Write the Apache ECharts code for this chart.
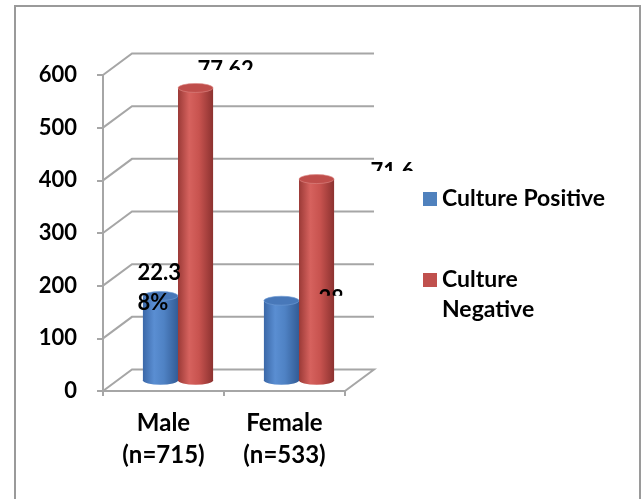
<!DOCTYPE html>
<html>
<head>
<meta charset="utf-8">
<script src="https://cdn.jsdelivr.net/npm/echarts@6/dist/echarts.min.js"></script>
<style>
  html, body { margin: 0; padding: 0; background: #fff; }
  #chart { width: 641px; height: 499px; }
</style>
</head>
<body>
<div id="chart"></div>
<script>
// Categories and values
const categories = ['Male\n(n=715)', 'Female\n(n=533)'];
const seriesNames = ['Culture Positive', 'Culture Negative'];
const positiveCounts = [160, 151];
const negativeCounts = [555, 382];
const positivePct = ['22.38%', '28.33%'];
const negativePct = ['77.62%', '71.67%'];
const yTicks = [0, 100, 200, 300, 400, 500, 600];

// Styling / pseudo-3D geometry
const FONT = 'Lato, "Open Sans", sans-serif';
const DEPTH_X = 29;      // horizontal shift of the back wall
const DEPTH_Y = 21.5;    // vertical shift of the back wall
const BAR_RATIO = 0.29;  // cylinder width as share of a category band
const CAP_RY = 4.5;      // half-height of the elliptical caps
const GRID_COLOR = '#a6a6a6';

const looks = [
  {
    base: '#4F81BD',
    body: ['#3b68a8', '#5a8ed2', '#4f82c4', '#335c96'],
    cap: '#4878b9', rim: '#6f9bd6'
  },
  {
    base: '#C0504D',
    body: ['#9b3a37', '#d6625e', '#c8534f', '#8c3230'],
    cap: '#bf4e4b', rim: '#dc8683'
  }
];

// Data label placement relative to each cylinder's top centre
const labelLayout = [
  [ { dx: -23, dy: -38, width: 52 },
    { dx: 37, dy: -17, width: 52, clipW: 28, clipH: 12 } ],
  [ { dx: 2, dy: -33, width: 66, clipH: 15 },
    { dx: 54, dy: -22, width: 52, clipH: 14 } ]
];

const valuesBySeries = [positiveCounts, negativeCounts];
const pctBySeries = [positivePct, negativePct];

function barGeometry(api, s, catIdx, value) {
  const top = api.coord([catIdx, value]);
  const base = api.coord([catIdx, 0]);
  const bw = api.size([1, 0])[0];
  const w = bw * BAR_RATIO;
  const cx = top[0] + DEPTH_X / 2 + (s === 0 ? -w / 2 : w / 2);
  return {
    cx: cx,
    w: w,
    topY: top[1] - DEPTH_Y / 2,
    baseY: base[1] - DEPTH_Y / 2
  };
}

function gradient(stops) {
  return new echarts.graphic.LinearGradient(0, 0, 1, 0, [
    { offset: 0, color: stops[0] },
    { offset: 0.32, color: stops[1] },
    { offset: 0.6, color: stops[2] },
    { offset: 1, color: stops[3] }
  ]);
}

function ellipse(cx, cy, rx, ry, style) {
  return {
    type: 'circle',
    x: cx, y: cy,
    scaleY: ry / rx,
    shape: { cx: 0, cy: 0, r: rx },
    style: style
  };
}

function cylinderSeries(s) {
  return {
    name: seriesNames[s],
    type: 'custom',
    clip: false,
    itemStyle: { color: looks[s].base },
    data: valuesBySeries[s].map((v, i) => [i, v]),
    renderItem: function (params, api) {
      const i = api.value(0);
      const v = api.value(1);
      const g = barGeometry(api, s, i, v);
      const rx = g.w / 2;
      const look = looks[s];
      return {
        type: 'group',
        children: [
          ellipse(g.cx, g.baseY, rx, CAP_RY, { fill: gradient(look.body) }),
          {
            type: 'rect',
            shape: { x: g.cx - rx, y: g.topY, width: g.w, height: g.baseY - g.topY },
            style: { fill: gradient(look.body) }
          },
          ellipse(g.cx, g.topY, rx, CAP_RY, { fill: look.cap, stroke: look.rim, lineWidth: 1 })
        ]
      };
    }
  };
}

// Back wall + floor drawn in oblique projection
const wallSeries = {
  type: 'custom',
  silent: true,
  clip: false,
  z: 1,
  data: yTicks.map(v => [0, v]),
  renderItem: function (params, api) {
    const v = api.value(1);
    const cs = params.coordSys;
    const left = cs.x, right = cs.x + cs.width;
    const y = api.coord([0, v])[1];
    const pts = [[left, y], [left + DEPTH_X, y - DEPTH_Y], [right + DEPTH_X, y - DEPTH_Y]];
    if (v === 0) pts.push([right, y]);
    return {
      type: 'polyline',
      shape: { points: pts },
      style: { stroke: GRID_COLOR, lineWidth: 2, fill: null }
    };
  }
};

// Percentage labels, drawn above both cylinder series
const labelData = [];
valuesBySeries.forEach((vals, s) => vals.forEach((v, i) => labelData.push([i, v, s])));

const labelSeries = {
  type: 'custom',
  silent: true,
  clip: false,
  z: 5,
  data: labelData,
  renderItem: function (params, api) {
    const i = api.value(0);
    const v = api.value(1);
    const s = api.value(2);
    const g = barGeometry(api, s, i, v);
    const lay = labelLayout[s][i];
    const el = {
      type: 'text',
      x: g.cx + lay.dx,
      y: g.topY + lay.dy,
      style: {
        text: pctBySeries[s][i],
        width: lay.width,
        overflow: 'breakAll',
        font: 'bold 22px ' + FONT,
        lineHeight: 30,
        fill: '#000',
        align: 'left',
        verticalAlign: 'top'
      }
    };
    if (lay.clipH) {
      el.clipPath = {
        type: 'rect',
        shape: { x: -4, y: -4, width: (lay.clipW || lay.width + 8), height: lay.clipH + 4 }
      };
    }
    return el;
  }
};

const chart = echarts.init(document.getElementById('chart'), null, { renderer: 'canvas' });

chart.setOption({
  animation: false,
  backgroundColor: '#fff',
  grid: { left: 103, top: 75, width: 242, height: 316 },
  legend: {
    orient: 'vertical',
    left: 423,
    top: 184,
    padding: 0,
    itemGap: 21,
    itemWidth: 14,
    itemHeight: 14,
    icon: 'rect',
    data: seriesNames,
    formatter: function (name) {
      return name === 'Culture Negative' ? ' \nCulture\nNegative' : name;
    },
    textStyle: {
      fontFamily: FONT,
      fontWeight: 'bold',
      fontSize: 23,
      lineHeight: 30,
      color: '#000'
    }
  },
  xAxis: {
    type: 'category',
    data: categories,
    axisLine: { show: true, lineStyle: { color: GRID_COLOR, width: 2 } },
    axisTick: { show: true, length: 5, lineStyle: { color: GRID_COLOR, width: 2 } },
    axisLabel: {
      margin: 16,
      color: '#000',
      fontFamily: FONT,
      fontWeight: 'bold',
      fontSize: 24,
      lineHeight: 32
    },
    splitLine: { show: false }
  },
  yAxis: {
    type: 'value',
    min: 0,
    max: 600,
    interval: 100,
    axisLine: { show: true, lineStyle: { color: GRID_COLOR, width: 2 } },
    axisTick: { show: true, length: 6, lineStyle: { color: GRID_COLOR, width: 2 } },
    axisLabel: {
      margin: 26,
      color: '#000',
      fontFamily: FONT,
      fontWeight: 'bold',
      fontSize: 22
    },
    splitLine: { show: false }
  },
  graphic: [
    {
      type: 'polyline',
      silent: true,
      shape: { points: [[15, 520], [15, 6], [640, 6], [640, 520]] },
      style: { stroke: '#9a9a9a', lineWidth: 2, fill: null }
    }
  ],
  series: [wallSeries, cylinderSeries(0), cylinderSeries(1), labelSeries]
});
</script>
</body>
</html>
